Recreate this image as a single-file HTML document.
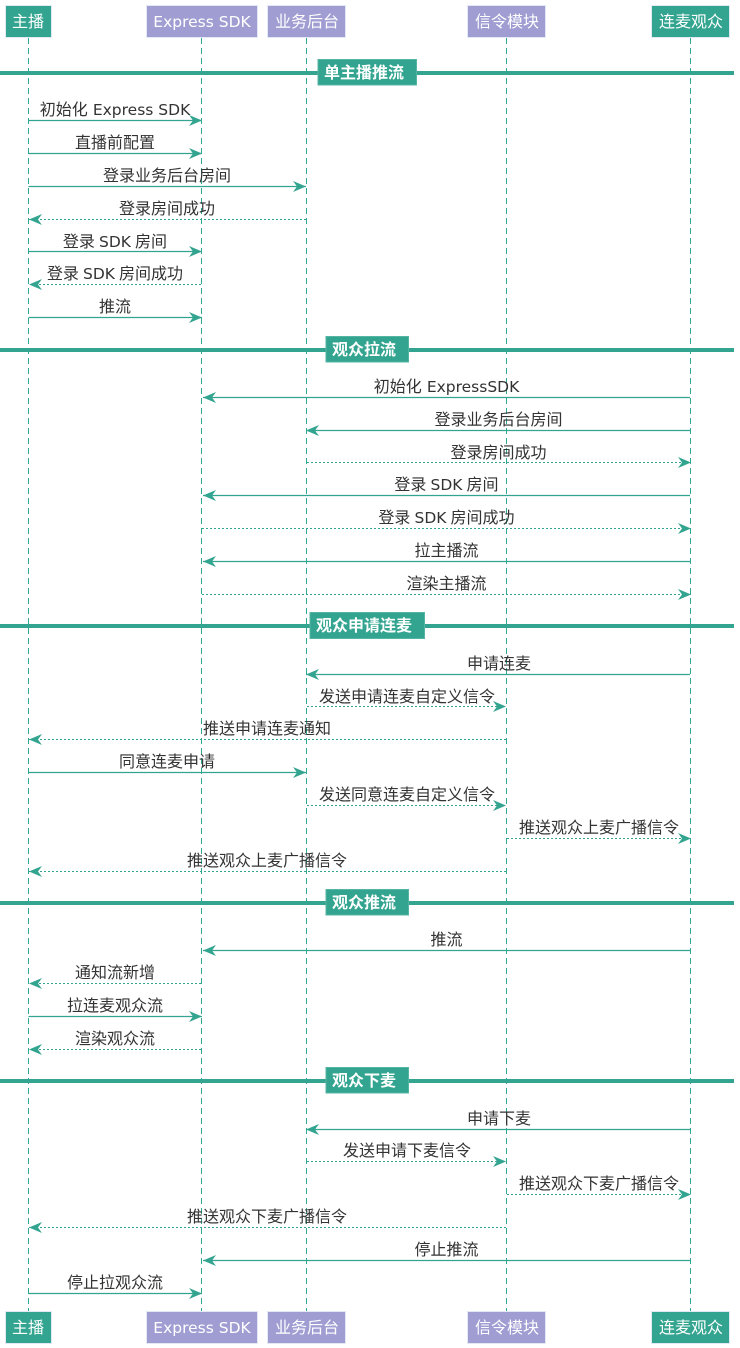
<!DOCTYPE html>
<html><head><meta charset="utf-8">
<style>
html,body{margin:0;padding:0;background:#fff;}
svg{display:block;}
text{font-family:"DejaVu Sans","Noto Sans CJK SC",sans-serif;font-size:16px;text-anchor:middle;}
tspan{font-size:15.5px}
.m{fill:#333}
.k{word-spacing:-1px}
.h{fill:#fff}
.b{fill:#fff;font-weight:bold}
.l{stroke:#2fa893;stroke-width:1;stroke-dasharray:6 4;fill:none}
.s{stroke:#32a48f;stroke-width:1.2;fill:none;marker-end:url(#a)}
.d{stroke:#32a48f;stroke-width:1;stroke-dasharray:2 2;fill:none;marker-end:url(#a)}
.g{fill:#32a48f;stroke:#e3e8f5;stroke-width:1}
.p{fill:#a09dd2;stroke:#e3e8f5;stroke-width:1}
.bl{fill:#32a48f}
.bb{fill:#32a48f;stroke:#55b5a3;stroke-width:1}
</style></head>
<body>
<svg xmlns="http://www.w3.org/2000/svg" width="740" height="1348" viewBox="0 0 740 1348">
<defs><marker id="a" markerUnits="userSpaceOnUse" markerWidth="14" markerHeight="12" viewBox="0 0 14 12" refX="13" refY="6" orient="auto"><path d="M0,0.5 L13,6 L0,11.5 L4,6 z" fill="#32a48f"/></marker></defs>

<line class="l" x1="28.5" y1="38" x2="28.5" y2="1311"/>
<line class="l" x1="201.5" y1="38" x2="201.5" y2="1311"/>
<line class="l" x1="306.5" y1="38" x2="306.5" y2="1311"/>
<line class="l" x1="506.5" y1="38" x2="506.5" y2="1311"/>
<line class="l" x1="690.5" y1="38" x2="690.5" y2="1311"/>

<rect class="g" x="5.5" y="5.5" width="46" height="32"/><text class="h" x="28" y="27">主播</text>
<rect class="p" x="146.5" y="5.5" width="111" height="32"/><text class="h" x="202" y="27"><tspan>Express SDK</tspan></text>
<rect class="p" x="267.5" y="5.5" width="78" height="32"/><text class="h" x="307" y="27">业务后台</text>
<rect class="p" x="467.5" y="5.5" width="78" height="32"/><text class="h" x="507" y="27">信令模块</text>
<rect class="g" x="651.5" y="5.5" width="78" height="32"/><text class="h" x="691" y="27">连麦观众</text>

<rect class="g" x="5.5" y="1311.5" width="46" height="32"/><text class="h" x="28" y="1333">主播</text>
<rect class="p" x="146.5" y="1311.5" width="111" height="32"/><text class="h" x="202" y="1333"><tspan>Express SDK</tspan></text>
<rect class="p" x="267.5" y="1311.5" width="78" height="32"/><text class="h" x="307" y="1333">业务后台</text>
<rect class="p" x="467.5" y="1311.5" width="78" height="32"/><text class="h" x="507" y="1333">信令模块</text>
<rect class="g" x="651.5" y="1311.5" width="78" height="32"/><text class="h" x="691" y="1333">连麦观众</text>

<rect class="bl" x="0" y="71" width="734" height="4"/><rect class="bb" x="318" y="59.5" width="98.5" height="25.5"/><text class="b" x="364" y="78">单主播推流</text>
<rect class="bl" x="0" y="348" width="734" height="4"/><rect class="bb" x="326" y="336.5" width="82.5" height="25.5"/><text class="b" x="364" y="355">观众拉流</text>
<rect class="bl" x="0" y="624" width="734" height="4"/><rect class="bb" x="310" y="612.5" width="114.5" height="26"/><text class="b" x="364" y="631">观众申请连麦</text>
<rect class="bl" x="0" y="901" width="734" height="4"/><rect class="bb" x="326" y="889.5" width="82.5" height="25.5"/><text class="b" x="364" y="908">观众推流</text>
<rect class="bl" x="0" y="1079" width="734" height="4"/><rect class="bb" x="326" y="1067.5" width="82.5" height="25.5"/><text class="b" x="364" y="1086">观众下麦</text>

<line class="s" x1="28.5" y1="120.5" x2="202" y2="120.5"/><text class="m" x="115" y="115">初始化 <tspan>Express SDK</tspan></text>
<line class="s" x1="28.5" y1="153.5" x2="202" y2="153.5"/><text class="m" x="115" y="148">直播前配置</text>
<line class="s" x1="28.5" y1="186.5" x2="306" y2="186.5"/><text class="m" x="167" y="181">登录业务后台房间</text>
<line class="d" x1="306" y1="219.5" x2="29" y2="219.5"/><text class="m" x="167" y="214">登录房间成功</text>
<line class="s" x1="28.5" y1="251.5" x2="202" y2="251.5"/><text class="m k" x="115" y="247">登录 <tspan>SDK</tspan> 房间</text>
<line class="d" x1="201" y1="284.5" x2="29" y2="284.5"/><text class="m k" x="115" y="279">登录 <tspan>SDK</tspan> 房间成功</text>
<line class="s" x1="28.5" y1="317.5" x2="202" y2="317.5"/><text class="m" x="115" y="312">推流</text>

<line class="s" x1="690" y1="397.5" x2="203" y2="397.5"/><text class="m" x="446.5" y="392">初始化 <tspan>ExpressSDK</tspan></text>
<line class="s" x1="690" y1="430.5" x2="306" y2="430.5"/><text class="m" x="498.5" y="425">登录业务后台房间</text>
<line class="d" x1="307" y1="462.5" x2="691" y2="462.5"/><text class="m" x="498.5" y="458">登录房间成功</text>
<line class="s" x1="690" y1="495.5" x2="203" y2="495.5"/><text class="m k" x="446.5" y="490">登录 <tspan>SDK</tspan> 房间</text>
<line class="d" x1="202" y1="528.5" x2="691" y2="528.5"/><text class="m k" x="446.5" y="523">登录 <tspan>SDK</tspan> 房间成功</text>
<line class="s" x1="690" y1="561.5" x2="203" y2="561.5"/><text class="m" x="446.5" y="556">拉主播流</text>
<line class="d" x1="202" y1="594.5" x2="691" y2="594.5"/><text class="m" x="446.5" y="589">渲染主播流</text>

<line class="s" x1="690" y1="674.5" x2="306" y2="674.5"/><text class="m" x="499" y="669">申请连麦</text>
<line class="d" x1="307" y1="706.5" x2="506" y2="706.5"/><text class="m" x="407" y="702">发送申请连麦自定义信令</text>
<line class="d" x1="506" y1="739.5" x2="29" y2="739.5"/><text class="m" x="267" y="734">推送申请连麦通知</text>
<line class="s" x1="28.5" y1="772.5" x2="306" y2="772.5"/><text class="m" x="167" y="767">同意连麦申请</text>
<line class="d" x1="307" y1="805.5" x2="506" y2="805.5"/><text class="m" x="407" y="800">发送同意连麦自定义信令</text>
<line class="d" x1="507" y1="838.5" x2="691" y2="838.5"/><text class="m" x="599" y="833">推送观众上麦广播信令</text>
<line class="d" x1="506" y1="871.5" x2="29" y2="871.5"/><text class="m" x="267" y="866">推送观众上麦广播信令</text>

<line class="s" x1="690" y1="950.5" x2="203" y2="950.5"/><text class="m" x="446.5" y="945">推流</text>
<line class="d" x1="201" y1="983.5" x2="29" y2="983.5"/><text class="m" x="115" y="978">通知流新增</text>
<line class="s" x1="28.5" y1="1016.5" x2="202" y2="1016.5"/><text class="m" x="115" y="1011">拉连麦观众流</text>
<line class="d" x1="201" y1="1049.5" x2="29" y2="1049.5"/><text class="m" x="115" y="1044">渲染观众流</text>

<line class="s" x1="690" y1="1129.5" x2="306" y2="1129.5"/><text class="m" x="499" y="1124">申请下麦</text>
<line class="d" x1="307" y1="1161.5" x2="506" y2="1161.5"/><text class="m" x="407" y="1156">发送申请下麦信令</text>
<line class="d" x1="507" y1="1194.5" x2="691" y2="1194.5"/><text class="m" x="599" y="1189">推送观众下麦广播信令</text>
<line class="d" x1="506" y1="1227.5" x2="29" y2="1227.5"/><text class="m" x="267" y="1222">推送观众下麦广播信令</text>
<line class="s" x1="690" y1="1260.5" x2="203" y2="1260.5"/><text class="m" x="446.5" y="1255">停止推流</text>
<line class="s" x1="28.5" y1="1293.5" x2="202" y2="1293.5"/><text class="m" x="115" y="1288">停止拉观众流</text>
</svg>
</body></html>
